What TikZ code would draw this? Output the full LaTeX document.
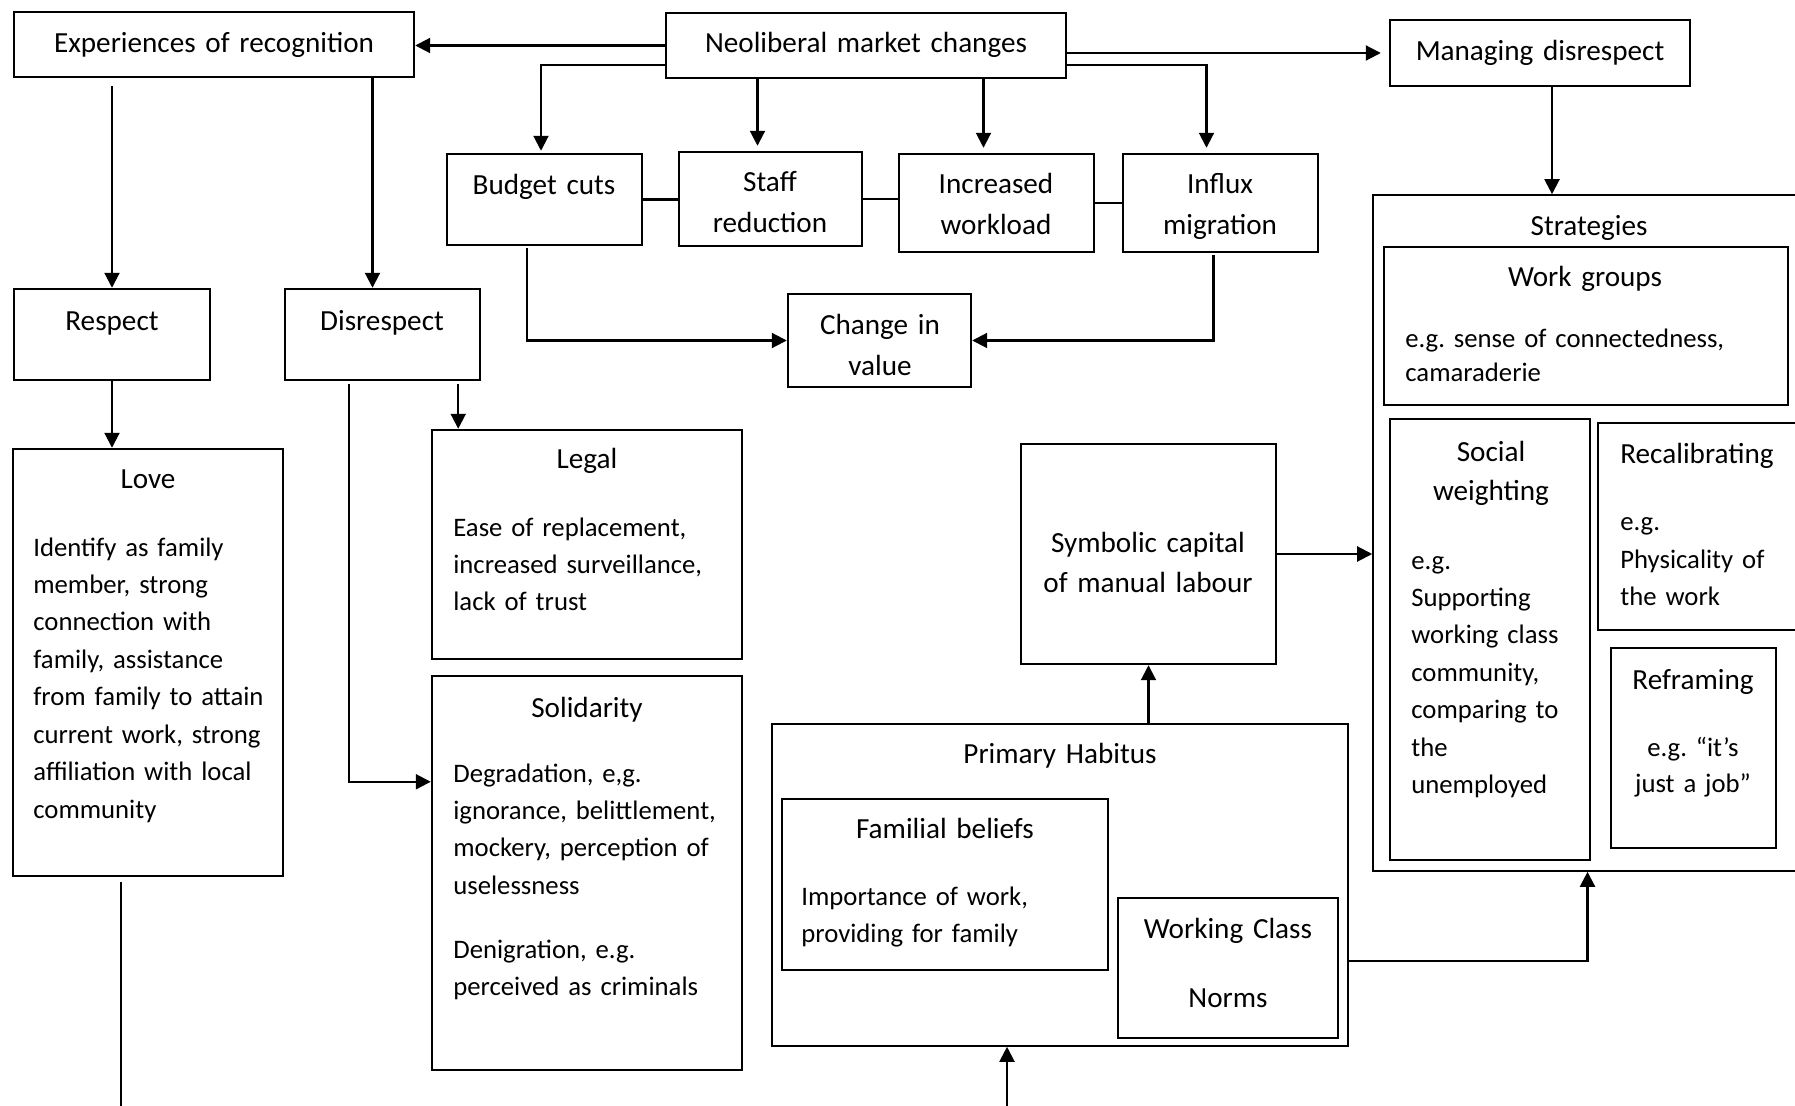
\documentclass[tikz,border=0pt]{standalone}
\usepackage{fontspec}
\setmainfont{Carlito}
\usepackage{tikz}
\usetikzlibrary{arrows.meta,fit}
\pgfdeclarelayer{nodelayer}
\pgfdeclarelayer{edgelayer}
\pgfsetlayers{edgelayer,nodelayer,main}
\frenchspacing
\newcommand{\headsize}{\fontsize{16.6}{23.3}\selectfont}
\newcommand{\bodysize}{\fontsize{15.2}{21.3}\selectfont}
\tikzstyle{frame box}=[draw=black, line width=1.4pt, inner sep=0pt, shape=rectangle]
\tikzstyle{thin box}=[draw=black, line width=0.9pt, inner sep=0pt, shape=rectangle]
\tikzstyle{head text}=[inner sep=0pt, anchor=base, font=\headsize, align=center, text width=70mm]
\tikzstyle{body text}=[inner sep=0pt, anchor=base west, font=\bodysize, align=left, text width=80mm]
\tikzstyle{edge line}=[draw=black, line width=1.2pt]
\tikzstyle{edge arrow}=[draw=black, line width=1.2pt, -{Triangle[length=3mm,width=3mm]}]

\begin{document}
\begin{tikzpicture}[x=0.2mm, y=-0.2mm]
	\useasboundingbox (0, 0) rectangle (1795, 1106);
	\begin{pgfonlayer}{nodelayer}
		% boxes
		\node [style=frame box, fit={(14, 12) (414, 77)}] (0) {};
		\node [style=frame box, fit={(666, 13) (1066, 78)}] (1) {};
		\node [style=frame box, fit={(1390, 20) (1690, 86)}] (2) {};
		\node [style=frame box, fit={(447, 154) (642, 245)}] (3) {};
		\node [style=frame box, fit={(679, 152) (862, 246)}] (4) {};
		\node [style=frame box, fit={(899, 154) (1094, 252)}] (5) {};
		\node [style=frame box, fit={(1123, 154) (1318, 252)}] (6) {};
		\node [style=frame box, fit={(788, 294) (971, 387)}] (7) {};
		\node [style=frame box, fit={(14, 289) (210, 380)}] (8) {};
		\node [style=frame box, fit={(285, 289) (480, 380)}] (9) {};
		\node [style=frame box, fit={(13, 449) (283, 876)}] (10) {};
		\node [style=frame box, fit={(432, 430) (742, 659)}] (11) {};
		\node [style=frame box, fit={(432, 676) (742, 1070)}] (12) {};
		\node [style=frame box, fit={(1021, 444) (1276, 664)}] (13) {};
		\node [style=thin box, fit={(772, 724) (1348, 1046)}] (14) {};
		\node [style=frame box, fit={(782, 799) (1108, 970)}] (15) {};
		\node [style=frame box, fit={(1118, 898) (1338, 1038)}] (16) {};
		\node [style=thin box, fit={(1373, 195) (1802, 871)}] (17) {};
		\node [style=frame box, fit={(1384, 247) (1788, 405)}] (18) {};
		\node [style=frame box, fit={(1390, 419) (1590, 860)}] (19) {};
		\node [style=frame box, fit={(1598, 423) (1804, 630)}] (20) {};
		\node [style=frame box, fit={(1611, 648) (1776, 848)}] (21) {};
		% texts
		\node [style=head text] (22) at (214, 53) {Experiences of recognition};
		\node [style=head text] (23) at (866, 53) {Neoliberal market changes};
		\node [style=head text] (24) at (1540, 61) {Managing disrespect};
		\node [style=head text] (25) at (544, 195) {Budget cuts};
		\node [style=head text] (26) at (770, 192) {Staff\\reduction};
		\node [style=head text] (27) at (996, 194) {Increased\\workload};
		\node [style=head text] (28) at (1220, 194) {Influx\\migration};
		\node [style=head text] (29) at (880, 335) {Change in\\value};
		\node [style=head text] (30) at (112, 331) {Respect};
		\node [style=head text] (31) at (382, 331) {Disrespect};
		\node [style=head text] (32) at (148, 489) {Love};
		\node [style=body text] (33) at (33, 556) {Identify as family\\member, strong\\connection with\\family, assistance\\from family to attain\\current work, strong\\affiliation with local\\community};
		\node [style=head text] (34) at (587, 469) {Legal};
		\node [style=body text] (35) at (453, 536) {Ease of replacement,\\increased surveillance,\\lack of trust};
		\node [style=head text] (36) at (587, 717) {Solidarity};
		\node [style=body text] (37) at (453, 782) {Degradation, e,g.\\ignorance, belittlement,\\mockery, perception of\\uselessness\\[15pt]Denigration, e.g.\\perceived as criminals};
		\node [style=head text] (38) at (1148, 552) {Symbolic capital\\of manual labour};
		\node [style=head text] (39) at (1060, 763) {Primary Habitus};
		\node [style=head text] (40) at (945, 838) {Familial beliefs};
		\node [style=body text] (41) at (801, 905) {Importance of work,\\providing for family};
		\node [style=head text] (42) at (1228, 938) {Working Class\\[16pt]Norms};
		\node [style=head text] (43) at (1589, 236) {Strategies};
		\node [style=head text] (44) at (1585, 287) {Work groups};
		\node [style=body text, font={\fontsize{15.2}{18.8}\selectfont}] (45) at (1405, 348) {e.g. sense of connectedness,\\camaraderie};
		\node [style=head text, font={\fontsize{16.6}{22.2}\selectfont}] (46) at (1491, 461) {Social\\weighting};
		\node [style=body text] (47) at (1411, 569) {e.g.\\Supporting\\working class\\community,\\comparing to\\the\\unemployed};
		\node [style=head text, anchor=base west, align=left] (48) at (1620, 464) {Recalibrating};
		\node [style=body text] (49) at (1620, 531) {e.g.\\Physicality of\\the work};
		\node [style=head text] (50) at (1693, 689) {Reframing};
		\node [style=head text, font={\fontsize{15.2}{20.5}\selectfont}] (51) at (1693, 756) {e.g. “it’s\\just a job”};
	\end{pgfonlayer}
	\begin{pgfonlayer}{edgelayer}
		\coordinate (c0) at (666, 65);
		\coordinate (c1) at (1066, 65);
		\coordinate (c2) at ([xshift=-2.6mm]4.north);
		\coordinate (c3) at ([xshift=-2.6mm]5.north);
		\coordinate (c4) at ([xshift=-3.5mm]3.south);
		\coordinate (c5) at ([xshift=-1.4mm]6.south);
		\coordinate (c7) at ([xshift=-2mm]9.north);
		\coordinate (c8) at ([xshift=-4.6mm]9.south east);
		\coordinate (c9) at ([xshift=13mm]9.south west);
		\coordinate (c10) at ([yshift=-21.4mm]12.north west);
		\coordinate (c11) at ([xshift=-5.4mm]10.south);
		\coordinate (c12) at (0, 1110);
		\coordinate (c13) at (1007, 1110);
		\coordinate (c14) at ([xshift=2.4mm]2.south);
		\coordinate (c15) at ([yshift=1.4mm]16.east);
		\draw [style=edge arrow] (1.west) to (0.east |- 1.west);
		\draw [style=edge arrow, shorten >=1.6mm] (1.east |- 2.west) to (2.west);
		\draw [style=edge arrow, shorten >=0.4mm] (c0) -| ([xshift=-0.7mm]3.north);
		\draw [style=edge arrow, shorten >=1mm] (c1) -| ([xshift=-2.8mm]6.north);
		\draw [style=edge arrow, shorten >=1mm] (1.south -| c2) to (c2);
		\draw [style=edge arrow, shorten >=1mm] (1.south -| c3) to (c3);
		\draw [style=edge line] (3.east) to (4.west |- 3.east);
		\draw [style=edge line] (4.east) to (5.west |- 4.east);
		\draw [style=edge line] (5.east) to (6.west |- 5.east);
		\draw [style=edge arrow, shorten <=0.4mm] (c4) |- (7.west);
		\draw [style=edge arrow, shorten <=0.4mm] (c5) |- (7.east);
		\draw [style=edge arrow, shorten <=1.6mm] (0.south -| 8.north) to (8.north);
		\draw [style=edge arrow] (0.south -| c7) to (c7);
		\draw [style=edge arrow] (8.south) to (8.south |- 10.north);
		\draw [style=edge arrow, shorten <=0.6mm] (c8) to (c8 |- 11.north);
		\draw [style=edge arrow, shorten <=0.6mm] (c9) |- (c10);
		\draw [style=edge line, shorten <=1mm] (c11) to (c11 |- c12);
		\draw [style=edge arrow] (14.north -| 13.south) to (13.south);
		\draw [style=edge arrow] (13.east) to (13.east -| 17.west);
		\draw [style=edge arrow] (14.east |- c15) -| (17.south);
		\draw [style=edge arrow] (c13) to (c13 |- 14.south);
		\draw [style=edge arrow] (c14) to (c14 |- 17.north);
	\end{pgfonlayer}
\end{tikzpicture}
\end{document}
